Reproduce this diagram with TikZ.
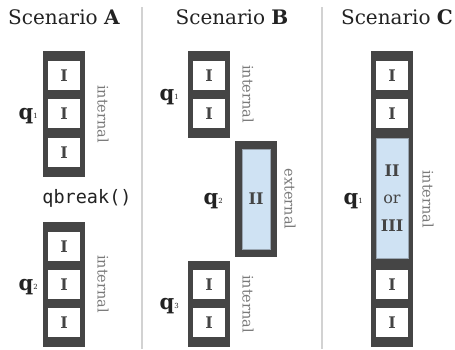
\documentclass[tikz,border=0pt]{standalone}
\usepackage{fontspec}
\setmainfont{DejaVu Serif}
\setmonofont{DejaVu Sans Mono}
\definecolor{barc}{HTML}{454545}
\definecolor{cellc}{HTML}{FFFFFF}
\definecolor{bluec}{HTML}{CFE2F3}
\definecolor{bluebd}{HTML}{9AA6B2}
\definecolor{inkc}{HTML}{222222}
\definecolor{glyphc}{HTML}{444444}
\definecolor{sidec}{HTML}{7A7A7A}
\definecolor{sepc}{HTML}{D2D2D2}
\begin{document}
\begin{tikzpicture}[x=1pt,y=-1pt,
  bar/.style={fill=barc, draw=none, inner sep=0pt, outer sep=0pt, anchor=north west, minimum width=42pt},
  cell/.style={fill=cellc, draw=none, inner sep=0pt, outer sep=0pt, anchor=north west,
    minimum width=32pt, minimum height=29pt, text=glyphc, font=\fontsize{16}{16}\selectfont\bfseries},
  ext/.style={fill=bluec, draw=bluebd, line width=0.6pt, inner sep=0pt, outer sep=0pt, anchor=north west,
    text=glyphc, font=\fontsize{16}{16}\selectfont\bfseries},
  side/.style={rotate=-90, text=sidec, font=\fontsize{14.5}{14.5}\selectfont, inner sep=0pt},
  qlab/.style={anchor=base east, text=inkc, font=\fontsize{21}{21}\selectfont, inner sep=0pt},
  title/.style={text=inkc, font=\fontsize{20}{20}\selectfont, inner sep=0pt, anchor=base},
  sep/.style={draw=sepc, line width=1.5pt}]
\useasboundingbox (0,0) rectangle (455,349);

% column separators
\coordinate (s1t) at (142,7);  \coordinate (s1b) at (142,349);
\coordinate (s2t) at (322,7);  \coordinate (s2b) at (322,349);
\draw[sep] (s1t) -- (s1b);
\draw[sep] (s2t) -- (s2b);

% titles
\node[title] (tA) at (64,24) {Scenario \textbf{A}};
\node[title] (tB) at (232,24) {Scenario \textbf{B}};
\node[title] (tC) at (397,24) {Scenario \textbf{C}};

% qubit label: bold q with a small index on the baseline
\newcommand{\qsub}[1]{\textbf{q}{\fontsize{7}{7}\selectfont\raisebox{1pt}{#1}}}

% ---- Scenario A ----
\node[bar, minimum height=126pt] (a1) at (43,51) {};
\node[cell] (a11) at (48,61) {I};
\node[cell] (a12) at (48,99) {I};
\node[cell] (a13) at (48,138) {I};
\node[side] (a1s) at (103,114) {internal};
\node[qlab] (a1q) at (38,119) {\qsub{1}};

\node[text=inkc, font=\ttfamily\fontsize{18.5}{18.5}\selectfont, inner sep=0pt] (brk) at (87,198) {qbreak()};

\node[bar, minimum height=125pt] (a2) at (43,222) {};
\node[cell] (a21) at (48,232) {I};
\node[cell] (a22) at (48,270) {I};
\node[cell] (a23) at (48,308) {I};
\node[side] (a2s) at (103,284) {internal};
\node[qlab] (a2q) at (38,290) {\qsub{2}};

% ---- Scenario B ----
\node[bar, minimum height=87pt] (b1) at (188,51) {};
\node[cell] (b11) at (193,61) {I};
\node[cell] (b12) at (193,99) {I};
\node[side] (b1s) at (248,94) {internal};
\node[qlab] (b1q) at (179,100) {\qsub{1}};

\node[bar, minimum height=116pt] (b2) at (235,141) {};
\node[ext, minimum width=28pt, minimum height=100pt] (b21) at (242,149) {II};
\node[side] (b2s) at (290,199) {external};
\node[qlab] (b2q) at (223,204) {\qsub{2}};

\node[bar, minimum height=86pt] (b3) at (188,261) {};
\node[cell] (b31) at (193,270) {I};
\node[cell] (b32) at (193,308) {I};
\node[side] (b3s) at (248,304) {internal};
\node[qlab] (b3q) at (179,309) {\qsub{3}};

% ---- Scenario C ----
\node[bar, minimum height=296pt] (c1) at (371,51) {};
\node[cell] (c11) at (376,61) {I};
\node[cell] (c12) at (376,99) {I};
\node[ext, minimum width=32pt, minimum height=120pt, align=center,
      font=\fontsize{16}{27.5}\selectfont] (c13) at (376,138)
      {\textbf{II}\\or\\\textbf{III}};
\node[cell] (c14) at (376,270) {I};
\node[cell] (c15) at (376,308) {I};
\node[side] (c1s) at (428,199) {internal};
\node[qlab] (c1q) at (363,204) {\qsub{1}};
\end{tikzpicture}
\end{document}
